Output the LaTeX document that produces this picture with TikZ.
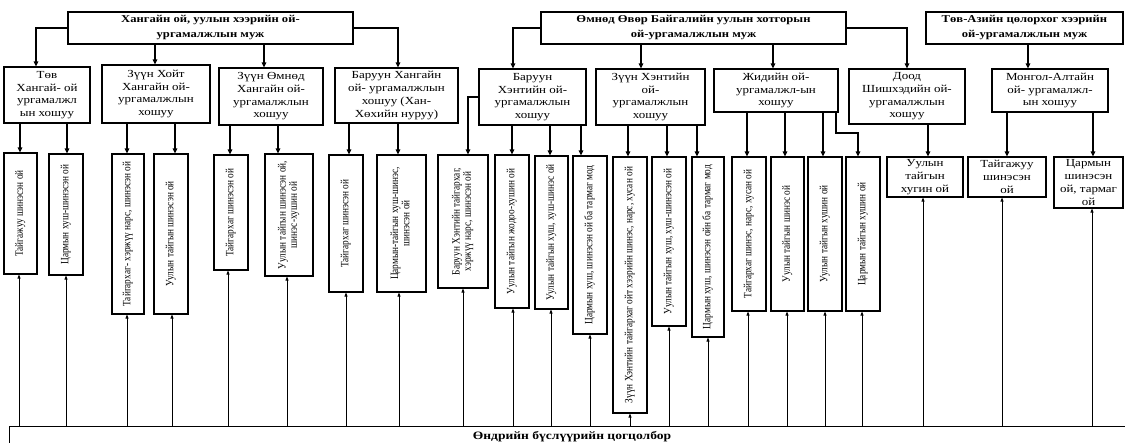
\documentclass[tikz,border=0pt]{standalone}
\usepackage{fontspec}
\setmainfont{Liberation Serif}
\newfontfamily\hfont{Liberation Serif}[FakeStretch=1.2]
\usetikzlibrary{arrows.meta}
\newcommand\vtxt[1]{\rotatebox{90}{\scalebox{1}[1.2]{\begin{tabular}{@{}c@{}}#1\end{tabular}}}}
\tikzset{
 bx/.style={draw, line width=1.1pt, align=center, inner sep=0pt, font=\hfont\fontsize{10.8}{12.7}\selectfont},
 hdr/.style={bx, font=\hfont\bfseries\fontsize{10.5}{15}\selectfont},
 leaf/.style={draw, line width=1.1pt, inner sep=0pt, font=\fontsize{9.3}{9.5}\selectfont},
 arr/.style={line width=1.2pt, -{Triangle[length=5pt,width=4.5pt]}},
 up/.style={line width=0.7pt, -{Triangle[length=4pt,width=3pt]}},
}
\begin{document}
\begin{tikzpicture}[x=1pt,y=-1pt]
\useasboundingbox (0,0) rectangle (1125,443);
\clip (0,0) rectangle (1125,443);
\fill[white] (0,0) rectangle (1125,443);
% headers
\node[hdr, minimum width=285, minimum height=32] (h1) at (210.5,28) {Хангайн ой, уулын хээрийн ой-\\ургамалжлын муж};
\node[hdr, minimum width=305, minimum height=32] (h2) at (693.5,28) {Өмнөд Өвөр Байгалийн уулын хотгорын\\ой-ургамалжлын муж};
\node[hdr, minimum width=197, minimum height=32] (h3) at (1024.5,28) {Төв-Азийн цөлорхог хээрийн\\ой-ургамалжлын муж};
% second row
\node[bx, minimum width=86, minimum height=56] (b1) at (47,95) {Төв\\Хангай- ой\\ургамалжл\\ын хошуу};
\node[bx, minimum width=108, minimum height=58] (b2) at (156,94) {Зүүн Хойт\\Хангайн ой-\\ургамалжлын\\хошуу};
\node[bx, minimum width=104, minimum height=57] (b3) at (271,96.5) {Зүүн Өмнөд\\Хангайн ой-\\ургамалжлын\\хошуу};
\node[bx, minimum width=123, minimum height=55] (b4) at (396.5,95.5) {Баруун Хангайн\\ой- ургамалжлын\\хошуу (Хан-\\Хөхийн нуруу)};
\node[bx, minimum width=107, minimum height=56] (b5) at (532.5,97) {Баруун\\Хэнтийн ой-\\ургамалжлын\\хошуу};
\node[bx, minimum width=109, minimum height=56] (b6) at (650.5,97) {Зүүн Хэнтийн\\ой-\\ургамалжлын\\хошуу};
\node[bx, minimum width=124, minimum height=43] (b7) at (776,90.5) {Жидийн ой-\\ургамалжл-ын\\хошуу};
\node[bx, minimum width=116, minimum height=55] (b8) at (907,96.5) {Доод\\Шишхэдийн ой-\\ургамалжлын\\хошуу};
\node[bx, minimum width=116, minimum height=43] (b9) at (1050,90.5) {Монгол-Алтайн\\ой- ургамалжл-\\ын хошуу};
% leaves
\node[leaf, minimum width=33, minimum height=121] (l1) at (20.5,213.5) {\vtxt{Тайгажуу шинэсэн ой}};
\node[leaf, minimum width=34, minimum height=121] (l2) at (66,214.5) {\vtxt{Цармын хуш-шинэсэн ой}};
\node[leaf, minimum width=32, minimum height=160] (l3) at (128,234) {\vtxt{Тайгархаг- хэржүү нарс, шинэсэн ой}};
\node[leaf, minimum width=34, minimum height=160] (l4) at (171,234) {\vtxt{Уулын тайгын шинэсэн ой}};
\node[leaf, minimum width=34, minimum height=115] (l5) at (231,212.5) {\vtxt{Тайгархаг шинэсэн ой}};
\node[leaf, minimum width=48, minimum height=122] (l6) at (289,215) {\vtxt{Уулын тайгын шинэсэн ой,\\шинэс-хушин ой}};
\node[leaf, minimum width=34, minimum height=137] (l7) at (346,223.5) {\vtxt{Тайгархаг шинэсэн ой}};
\node[leaf, minimum width=49, minimum height=137] (l8) at (401.5,223.5) {\vtxt{Цармын-тайгын хуш-шинэс,\\шинэсэн ой}};
\node[leaf, minimum width=50, minimum height=133] (l9) at (463,221.5) {\vtxt{Баруун Хэнтийн тайгархаг,\\хэржүү нарс, шинэсэн ой}};
\node[leaf, minimum width=34, minimum height=153] (l10) at (512,231.5) {\vtxt{Уулын тайгын жодоо-хушин ой}};
\node[leaf, minimum width=33, minimum height=153] (l11) at (551.5,232.5) {\vtxt{Уулын тайгын хуш, хуш-шинэс ой}};
\node[leaf, minimum width=34, minimum height=178] (l12) at (590,245) {\vtxt{Цармын хуш, шинэсэн ой ба тармаг мод}};
\node[leaf, minimum width=34, minimum height=256] (l13) at (630,285) {\vtxt{Зүүн Хэнтийн тайгархаг ойт хээрийн шинэс, нарс, хусан ой}};
\node[leaf, minimum width=34, minimum height=169] (l14) at (669,241.5) {\vtxt{Уулын тайгын хуш, хуш-шинэсэн ой}};
\node[leaf, minimum width=32, minimum height=180] (l15) at (708,247) {\vtxt{Цармын хуш, шинэсэн ойн ба тармаг мод}};
\node[leaf, minimum width=34, minimum height=154] (l16) at (749,234) {\vtxt{Тайгархаг шинэс, нарс, хусан ой}};
\node[leaf, minimum width=33, minimum height=154] (l17) at (787.5,234) {\vtxt{Уулын тайгын шинэс ой}};
\node[leaf, minimum width=34, minimum height=154] (l18) at (825,234) {\vtxt{Уулын тайгын хушин ой}};
\node[leaf, minimum width=34, minimum height=154] (l19) at (863,234) {\vtxt{Цармын тайгын хушин ой}};
\node[bx, minimum width=76, minimum height=40] (l20) at (925,177) {Уулын\\тайгын\\хугин ой};
\node[bx, minimum width=78, minimum height=40] (l21) at (1007,177) {Тайгажуу\\шинэсэн\\ой};
\node[bx, minimum width=69, minimum height=51] (l22) at (1088.5,182.5) {Цармын\\шинэсэн\\ой, тармаг\\ой};
% bottom bar
\node[draw, line width=1pt, minimum width=1126, minimum height=20, inner sep=0pt, font=\hfont\bfseries\fontsize{11.3}{12}\selectfont] (bot) at (572,437) {Өндрийн бүслүүрийн цогцолбор};
% header connectors
\draw[arr] (h1.west) -| (36,0 |- b1.north);
\draw[arr] (155,0 |- h1.south) -- (155,0 |- b2.north);
\draw[arr] (264,0 |- h1.south) -- (264,0 |- b3.north);
\draw[arr] (h1.east) -| (398,0 |- b4.north);
\draw[arr] (h2.west) -| (513,0 |- b5.north);
\draw[arr] (641,0 |- h2.south) -- (641,0 |- b6.north);
\draw[arr] (773,0 |- h2.south) -- (773,0 |- b7.north);
\draw[arr] (h2.east) -| (907,0 |- b8.north);
\draw[arr] (1028,0 |- h3.south) -- (1028,0 |- b9.north);
% second row to leaves
\foreach \x/\s/\n in {20/b1/l1, 67/b1/l2, 127/b2/l3, 175/b2/l4, 230/b3/l5, 278/b3/l6, 349/b4/l7, 398/b4/l8, 512/b5/l10, 550/b5/l11, 581/b5/l12, 628/b6/l13, 667/b6/l14, 697/b6/l15, 747/b7/l16, 785/b7/l17, 823/b7/l18, 928/b8/l20, 1007/b9/l21, 1093/b9/l22}
  \draw[arr] (\x,0 |- \s.south) -- (\x,0 |- \n.north);
\draw[arr] (b5.west) -| (468,0 |- l9.north);
\coordinate (k1) at (836,133);
\draw[arr] (836,0 |- b7.south) -- (k1) -| (858,0 |- l19.north);
% bottom bar to leaves
\foreach \x/\n in {19/l1, 66/l2, 127/l3, 172/l4, 228/l5, 287/l6, 346/l7, 399/l8, 463/l9, 513/l10, 551/l11, 590/l12, 630/l13, 669/l14, 708/l15, 748/l16, 787/l17, 825/l18, 862/l19, 923/l20, 1002/l21, 1092/l22}
  \draw[up] (\x,0 |- bot.north) -- (\x,0 |- \n.south);
\end{tikzpicture}
\end{document}
